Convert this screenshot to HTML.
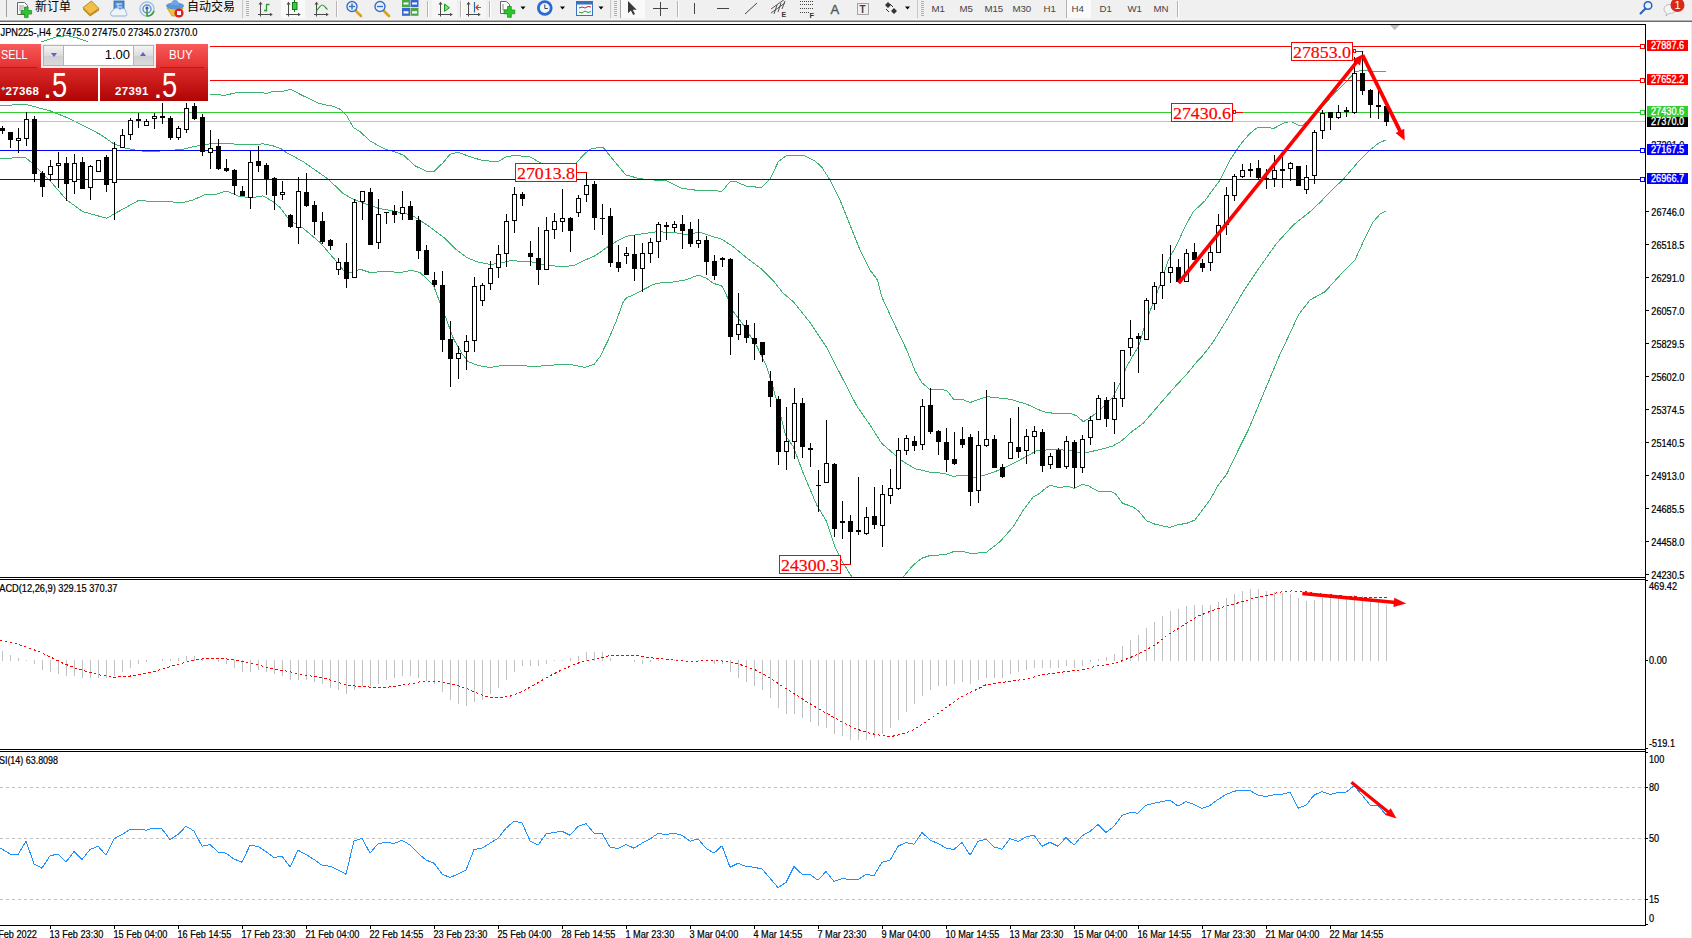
<!DOCTYPE html>
<html><head><meta charset="utf-8"><title>JPN225-,H4</title>
<style>
html,body{margin:0;padding:0;background:#fff;}
body{width:1692px;height:938px;position:relative;overflow:hidden;font-family:"Liberation Sans","Noto Sans CJK SC",sans-serif;}
#tb{position:absolute;left:0;top:0;width:1692px;height:19px;background:#f0f0f0;}
#tbl{position:absolute;left:0;top:19px;width:1692px;height:3px;background:linear-gradient(#f6f6f6 0,#f6f6f6 33%,#b2b2b2 34%,#b2b2b2 66%,#6c6c6c 67%);}
.t{position:absolute;white-space:nowrap;line-height:1;}
.tf{font-size:9.7px;color:#444;top:4.3px;margin-left:-0.6px;}
.cj{font-size:12px;color:#000;top:1px;font-family:"Liberation Sans","Noto Sans CJK SC",sans-serif;}
svg{position:absolute;left:0;top:0;}
.ax{font-size:10.2px;fill:#000;stroke:#000;stroke-width:.22px;font-family:"Liberation Sans",sans-serif;}
.axw{font-size:10.2px;fill:#fff;stroke:#fff;stroke-width:.3px;font-family:"Liberation Sans",sans-serif;}
.lbl{font-size:17.7px;fill:#f00;stroke:#f00;stroke-width:.2px;font-family:"Liberation Serif",serif;}
#panel{position:absolute;left:0;top:44px;width:208px;height:57px;}
#panel div{position:absolute;}
</style></head><body>

<svg width="1692" height="938" viewBox="0 0 1692 938">
<g shape-rendering="crispEdges">
<rect x="0" y="24" width="1646" height="1" fill="#000"/>
<rect x="1645" y="24" width="1" height="902" fill="#000"/>
<rect x="0" y="577" width="1646" height="1" fill="#000"/><rect x="0" y="579" width="1646" height="1" fill="#000"/>
<rect x="0" y="749" width="1646" height="1" fill="#000"/><rect x="0" y="751" width="1646" height="1" fill="#000"/>
<rect x="0" y="925" width="1646" height="1" fill="#000"/>
<rect x="1691" y="22" width="1" height="916" fill="#e8e8e8"/>
</g>
<defs><clipPath id="cm"><rect x="0" y="25" width="1645" height="552"/></clipPath></defs>
<g clip-path="url(#cm)">
<g fill="none" stroke="#3cb371" stroke-width="1" shape-rendering="crispEdges">
<polyline points="-5.0,62.0 20.0,50.0 42.0,41.6 56.0,37.0 67.5,35.6 77.5,38.0 87.5,41.6 120.0,58.0 160.0,78.0 195.0,90.0 210.0,94.2 225.0,95.3 238.3,92.2 258.3,92.2 266.7,93.3 273.3,91.2 283.3,91.2 290.8,89.2 300.0,94.2 316.7,102.5 323.3,104.5 333.3,106.3 340.0,109.2 346.7,115.8 353.3,127.5 360.0,131.7 370.0,140.8 380.0,146.7 388.3,150.3 391.7,150.8 403.3,155.0 415.0,165.8 426.7,171.3 434.2,171.3 443.3,162.5 450.0,154.2 458.3,152.2 470.0,156.7 483.3,160.8 498.3,161.3 506.7,156.7 515.0,155.3 530.0,157.0 540.0,162.5 548.0,166.0 560.0,168.0 570.0,166.0 576.7,162.5 583.3,155.0 590.0,149.2 600.0,147.2 603.3,147.5 613.3,160.0 625.8,175.0 640.0,178.7 653.3,180.0 666.7,180.8 681.7,188.3 696.7,190.3 713.3,190.3 721.7,191.7 730.0,181.7 736.7,182.0 746.7,186.3 761.7,187.5 770.0,179.2 778.3,161.7 786.7,155.3 803.3,155.3 815.0,160.8 822.0,167.5 830.0,180.0 840.0,200.0 850.0,225.0 860.0,250.0 870.0,270.0 877.5,280.0 881.7,296.7 893.3,321.7 906.7,350.0 915.0,370.8 921.7,382.5 930.0,389.7 938.3,389.2 946.7,390.3 954.2,400.0 961.7,399.2 970.0,402.5 986.7,396.7 1010.0,399.2 1026.7,404.2 1043.3,411.7 1053.3,413.3 1070.0,413.3 1076.7,415.8 1083.3,421.7 1091.7,416.7 1103.3,406.7 1113.3,396.7 1120.0,383.3 1126.7,366.7 1133.3,355.0 1139.2,345.0 1143.3,330.0 1151.7,306.7 1160.0,285.0 1168.3,260.0 1176.7,245.0 1185.0,226.7 1193.3,211.7 1205.0,200.8 1208.3,196.0 1220.0,180.0 1230.0,160.0 1240.0,145.0 1250.0,133.3 1258.3,127.0 1268.3,127.0 1273.3,128.7 1283.3,123.3 1290.8,121.2 1298.3,125.0 1303.3,125.0 1315.0,115.0 1325.0,104.0 1335.0,92.5 1343.3,85.0 1350.0,77.5 1355.0,71.7 1363.3,70.3 1370.0,71.3 1385.8,71.3"/>
<polyline points="-5.0,107.0 0.0,105.8 25.0,104.2 50.0,110.8 66.7,117.5 83.3,125.8 100.0,134.2 113.0,143.3 125.0,148.0 133.0,149.7 143.0,151.2 157.0,151.2 170.0,150.5 183.0,149.2 193.0,146.7 206.7,144.2 223.0,143.0 241.7,144.7 253.0,145.0 263.0,143.8 273.0,145.8 282.0,149.2 283.3,150.8 303.3,161.7 328.3,179.2 343.3,193.7 353.3,199.2 366.7,204.2 378.3,208.3 395.0,211.3 411.7,215.0 428.3,225.8 445.0,238.3 456.7,250.0 466.7,257.5 476.7,261.7 490.0,264.5 500.0,263.3 510.0,260.8 528.3,261.3 541.7,264.2 558.3,266.5 573.3,265.8 583.3,260.8 595.0,255.8 606.7,247.5 616.7,241.3 626.7,236.2 640.0,234.2 656.7,231.7 673.3,232.5 686.7,234.5 700.0,232.2 710.0,235.8 721.7,239.2 733.3,246.7 748.3,259.2 761.7,269.2 773.3,280.8 783.3,293.3 793.3,301.7 810.0,322.5 826.7,347.5 843.3,380.0 856.7,405.8 870.0,425.0 881.7,443.3 895.0,455.0 903.3,461.7 915.0,468.7 930.0,472.2 943.3,473.3 953.3,476.3 963.3,475.0 975.0,477.5 985.0,475.0 1001.7,469.2 1018.3,460.8 1036.7,450.8 1051.7,449.5 1070.0,450.3 1076.7,452.5 1086.7,452.5 1101.7,449.2 1113.3,445.8 1121.7,440.8 1131.7,431.7 1143.3,423.3 1153.3,411.7 1163.3,400.0 1175.0,386.7 1186.7,374.2 1198.3,360.0 1202.5,356.0 1213.3,341.7 1226.7,320.0 1243.3,291.7 1260.0,266.7 1276.7,243.3 1293.3,225.0 1310.0,211.7 1321.7,200.8 1325.8,196.0 1343.3,179.2 1358.3,161.7 1370.0,150.0 1378.3,143.3 1385.8,140.0"/>
<polyline points="-5.0,160.0 0.0,159.0 25.0,157.0 33.0,164.0 50.0,180.8 66.7,200.0 83.0,211.7 106.7,218.3 116.7,212.5 138.0,200.8 158.0,201.3 183.0,202.5 193.0,200.0 206.7,194.0 216.7,194.0 226.7,191.0 240.0,196.7 253.0,197.5 263.0,195.8 273.0,201.7 280.0,207.5 290.0,220.8 303.3,228.3 320.0,242.5 336.7,261.7 345.0,272.5 350.0,273.0 360.0,269.2 370.0,272.5 386.7,271.3 400.0,272.5 411.7,270.3 420.0,272.5 433.3,285.0 439.0,300.0 446.7,320.0 453.3,338.3 461.7,353.3 468.3,361.7 478.3,365.5 490.0,367.5 503.3,365.3 536.7,366.3 558.3,364.7 571.7,364.7 585.0,367.5 594.2,364.2 600.0,356.7 608.3,340.0 616.7,320.0 623.3,301.7 626.7,297.5 633.3,295.0 641.7,290.5 653.3,284.5 656.7,283.3 673.3,282.0 686.7,279.7 698.3,275.0 706.7,278.3 713.3,283.3 721.7,286.0 725.0,291.7 733.3,311.7 743.3,325.0 756.7,345.8 766.7,366.7 773.3,388.3 780.0,413.3 785.8,436.0 793.3,446.7 803.3,473.3 816.7,505.0 826.7,521.7 835.0,546.7 843.3,563.3 851.7,576.7 860.0,592.0 895.0,592.0 903.3,576.7 913.3,565.0 921.7,558.3 930.0,555.5 945.0,554.7 953.3,551.7 963.3,551.7 971.7,553.7 986.7,552.0 1000.0,541.7 1013.3,526.7 1023.3,510.0 1033.3,496.7 1038.3,494.2 1050.0,485.0 1058.3,487.5 1068.3,486.5 1074.2,488.3 1082.5,484.2 1088.3,485.8 1098.3,491.3 1111.7,491.7 1115.0,493.3 1122.5,503.3 1133.3,507.0 1138.3,510.8 1146.7,520.8 1155.0,524.2 1170.0,527.5 1176.7,525.0 1186.7,523.3 1195.0,520.0 1210.0,500.0 1218.3,485.0 1226.7,474.2 1238.3,450.0 1248.3,430.0 1279.2,356.0 1290.0,333.3 1298.3,315.0 1310.0,300.0 1325.0,291.7 1343.3,271.7 1355.0,260.0 1363.3,241.7 1373.3,221.7 1380.0,214.2 1385.8,211.3"/>
</g>
<g shape-rendering="crispEdges">
<rect x="0" y="46" width="1645" height="1" fill="#f00"/>
<rect x="0" y="80" width="1645" height="1" fill="#f00"/>
<rect x="0" y="112" width="1645" height="1" fill="#32cd32"/>
<rect x="0" y="121" width="1645" height="1" fill="#c0c0c0"/>
<rect x="0" y="150" width="1645" height="1" fill="#00f"/>
<rect x="0" y="179" width="1645" height="1" fill="#00f"/>
</g>
<g shape-rendering="crispEdges">
<rect x="2" y="126" width="1" height="8" fill="#000"/>
<rect x="0" y="128" width="5" height="3" fill="#000"/>
<rect x="10" y="132" width="1" height="16" fill="#000"/>
<rect x="8" y="132" width="5" height="8" fill="#000"/>
<rect x="18" y="128" width="1" height="25" fill="#000"/>
<rect x="16" y="138" width="5" height="3" fill="#000"/><rect x="17" y="139" width="3" height="1" fill="#fff"/>
<rect x="26" y="112" width="1" height="34" fill="#000"/>
<rect x="24" y="119" width="5" height="20" fill="#000"/><rect x="25" y="120" width="3" height="18" fill="#fff"/>
<rect x="34" y="116" width="1" height="66" fill="#000"/>
<rect x="32" y="119" width="5" height="55" fill="#000"/>
<rect x="42" y="171" width="1" height="26" fill="#000"/>
<rect x="40" y="173" width="5" height="14" fill="#000"/>
<rect x="50" y="160" width="1" height="21" fill="#000"/>
<rect x="48" y="166" width="5" height="9" fill="#000"/><rect x="49" y="167" width="3" height="7" fill="#fff"/>
<rect x="58" y="152" width="1" height="36" fill="#000"/>
<rect x="56" y="163" width="5" height="3" fill="#000"/><rect x="57" y="164" width="3" height="1" fill="#fff"/>
<rect x="66" y="157" width="1" height="44" fill="#000"/>
<rect x="64" y="163" width="5" height="21" fill="#000"/>
<rect x="74" y="154" width="1" height="40" fill="#000"/>
<rect x="72" y="163" width="5" height="19" fill="#000"/><rect x="73" y="164" width="3" height="17" fill="#fff"/>
<rect x="82" y="157" width="1" height="32" fill="#000"/>
<rect x="80" y="162" width="5" height="27" fill="#000"/>
<rect x="90" y="165" width="1" height="35" fill="#000"/>
<rect x="88" y="166" width="5" height="22" fill="#000"/><rect x="89" y="167" width="3" height="20" fill="#fff"/>
<rect x="98" y="160" width="1" height="12" fill="#000"/>
<rect x="96" y="160" width="5" height="12" fill="#000"/><rect x="97" y="161" width="3" height="10" fill="#fff"/>
<rect x="106" y="155" width="1" height="37" fill="#000"/>
<rect x="104" y="157" width="5" height="28" fill="#000"/>
<rect x="114" y="142" width="1" height="78" fill="#000"/>
<rect x="112" y="148" width="5" height="35" fill="#000"/><rect x="113" y="149" width="3" height="33" fill="#fff"/>
<rect x="122" y="129" width="1" height="19" fill="#000"/>
<rect x="120" y="135" width="5" height="13" fill="#000"/><rect x="121" y="136" width="3" height="11" fill="#fff"/>
<rect x="130" y="118" width="1" height="22" fill="#000"/>
<rect x="128" y="120" width="5" height="15" fill="#000"/><rect x="129" y="121" width="3" height="13" fill="#fff"/>
<rect x="138" y="113" width="1" height="15" fill="#000"/>
<rect x="136" y="119" width="5" height="2" fill="#000"/>
<rect x="146" y="119" width="1" height="7" fill="#000"/>
<rect x="144" y="121" width="5" height="5" fill="#000"/><rect x="145" y="122" width="3" height="3" fill="#fff"/>
<rect x="154" y="113" width="1" height="16" fill="#000"/>
<rect x="152" y="116" width="5" height="3" fill="#000"/><rect x="153" y="117" width="3" height="1" fill="#fff"/>
<rect x="162" y="103" width="1" height="21" fill="#000"/>
<rect x="160" y="116" width="5" height="2" fill="#000"/>
<rect x="170" y="116" width="1" height="24" fill="#000"/>
<rect x="168" y="118" width="5" height="20" fill="#000"/>
<rect x="178" y="126" width="1" height="14" fill="#000"/>
<rect x="176" y="128" width="5" height="10" fill="#000"/><rect x="177" y="129" width="3" height="8" fill="#fff"/>
<rect x="186" y="103" width="1" height="30" fill="#000"/>
<rect x="184" y="108" width="5" height="22" fill="#000"/><rect x="185" y="109" width="3" height="20" fill="#fff"/>
<rect x="194" y="103" width="1" height="17" fill="#000"/>
<rect x="192" y="106" width="5" height="13" fill="#000"/>
<rect x="202" y="114" width="1" height="42" fill="#000"/>
<rect x="200" y="117" width="5" height="35" fill="#000"/>
<rect x="210" y="130" width="1" height="39" fill="#000"/>
<rect x="208" y="148" width="5" height="5" fill="#000"/><rect x="209" y="149" width="3" height="3" fill="#fff"/>
<rect x="218" y="139" width="1" height="31" fill="#000"/>
<rect x="216" y="146" width="5" height="23" fill="#000"/>
<rect x="226" y="159" width="1" height="13" fill="#000"/>
<rect x="224" y="168" width="5" height="3" fill="#000"/>
<rect x="234" y="169" width="1" height="26" fill="#000"/>
<rect x="232" y="170" width="5" height="16" fill="#000"/>
<rect x="242" y="186" width="1" height="10" fill="#000"/>
<rect x="240" y="191" width="5" height="5" fill="#000"/>
<rect x="250" y="151" width="1" height="58" fill="#000"/>
<rect x="248" y="162" width="5" height="36" fill="#000"/><rect x="249" y="163" width="3" height="34" fill="#fff"/>
<rect x="258" y="146" width="1" height="26" fill="#000"/>
<rect x="256" y="161" width="5" height="5" fill="#000"/>
<rect x="266" y="163" width="1" height="32" fill="#000"/>
<rect x="264" y="165" width="5" height="14" fill="#000"/>
<rect x="274" y="177" width="1" height="33" fill="#000"/>
<rect x="272" y="178" width="5" height="18" fill="#000"/>
<rect x="282" y="181" width="1" height="19" fill="#000"/>
<rect x="280" y="192" width="5" height="3" fill="#000"/><rect x="281" y="193" width="3" height="1" fill="#fff"/>
<rect x="290" y="214" width="1" height="14" fill="#000"/>
<rect x="288" y="215" width="5" height="12" fill="#000"/>
<rect x="298" y="177" width="1" height="67" fill="#000"/>
<rect x="296" y="191" width="5" height="37" fill="#000"/><rect x="297" y="192" width="3" height="35" fill="#fff"/>
<rect x="306" y="173" width="1" height="34" fill="#000"/>
<rect x="304" y="192" width="5" height="14" fill="#000"/>
<rect x="314" y="201" width="1" height="34" fill="#000"/>
<rect x="312" y="205" width="5" height="17" fill="#000"/>
<rect x="322" y="212" width="1" height="32" fill="#000"/>
<rect x="320" y="221" width="5" height="21" fill="#000"/>
<rect x="330" y="239" width="1" height="11" fill="#000"/>
<rect x="328" y="240" width="5" height="6" fill="#000"/>
<rect x="338" y="258" width="1" height="17" fill="#000"/>
<rect x="336" y="262" width="5" height="8" fill="#000"/><rect x="337" y="263" width="3" height="6" fill="#fff"/>
<rect x="346" y="243" width="1" height="45" fill="#000"/>
<rect x="344" y="262" width="5" height="17" fill="#000"/>
<rect x="354" y="199" width="1" height="79" fill="#000"/>
<rect x="352" y="202" width="5" height="76" fill="#000"/><rect x="353" y="203" width="3" height="74" fill="#fff"/>
<rect x="362" y="191" width="1" height="29" fill="#000"/>
<rect x="360" y="191" width="5" height="11" fill="#000"/><rect x="361" y="192" width="3" height="9" fill="#fff"/>
<rect x="370" y="188" width="1" height="57" fill="#000"/>
<rect x="368" y="192" width="5" height="53" fill="#000"/>
<rect x="378" y="199" width="1" height="50" fill="#000"/>
<rect x="376" y="214" width="5" height="29" fill="#000"/><rect x="377" y="215" width="3" height="27" fill="#fff"/>
<rect x="386" y="212" width="1" height="12" fill="#000"/>
<rect x="384" y="212" width="5" height="1" fill="#000"/>
<rect x="394" y="205" width="1" height="18" fill="#000"/>
<rect x="392" y="211" width="5" height="4" fill="#000"/>
<rect x="402" y="191" width="1" height="29" fill="#000"/>
<rect x="400" y="207" width="5" height="7" fill="#000"/><rect x="401" y="208" width="3" height="5" fill="#fff"/>
<rect x="410" y="201" width="1" height="19" fill="#000"/>
<rect x="408" y="206" width="5" height="14" fill="#000"/>
<rect x="418" y="216" width="1" height="43" fill="#000"/>
<rect x="416" y="220" width="5" height="31" fill="#000"/>
<rect x="426" y="245" width="1" height="30" fill="#000"/>
<rect x="424" y="250" width="5" height="25" fill="#000"/>
<rect x="434" y="272" width="1" height="15" fill="#000"/>
<rect x="432" y="280" width="5" height="5" fill="#000"/>
<rect x="442" y="271" width="1" height="81" fill="#000"/>
<rect x="440" y="285" width="5" height="55" fill="#000"/>
<rect x="450" y="321" width="1" height="66" fill="#000"/>
<rect x="448" y="339" width="5" height="20" fill="#000"/>
<rect x="458" y="346" width="1" height="33" fill="#000"/>
<rect x="456" y="353" width="5" height="6" fill="#000"/><rect x="457" y="354" width="3" height="4" fill="#fff"/>
<rect x="466" y="335" width="1" height="35" fill="#000"/>
<rect x="464" y="341" width="5" height="11" fill="#000"/><rect x="465" y="342" width="3" height="9" fill="#fff"/>
<rect x="474" y="277" width="1" height="75" fill="#000"/>
<rect x="472" y="286" width="5" height="55" fill="#000"/><rect x="473" y="287" width="3" height="53" fill="#fff"/>
<rect x="482" y="283" width="1" height="23" fill="#000"/>
<rect x="480" y="285" width="5" height="16" fill="#000"/><rect x="481" y="286" width="3" height="14" fill="#fff"/>
<rect x="490" y="261" width="1" height="29" fill="#000"/>
<rect x="488" y="268" width="5" height="16" fill="#000"/><rect x="489" y="269" width="3" height="14" fill="#fff"/>
<rect x="498" y="245" width="1" height="33" fill="#000"/>
<rect x="496" y="254" width="5" height="14" fill="#000"/><rect x="497" y="255" width="3" height="12" fill="#fff"/>
<rect x="506" y="214" width="1" height="53" fill="#000"/>
<rect x="504" y="221" width="5" height="33" fill="#000"/><rect x="505" y="222" width="3" height="31" fill="#fff"/>
<rect x="514" y="187" width="1" height="46" fill="#000"/>
<rect x="512" y="194" width="5" height="27" fill="#000"/><rect x="513" y="195" width="3" height="25" fill="#fff"/>
<rect x="522" y="192" width="1" height="14" fill="#000"/>
<rect x="520" y="194" width="5" height="5" fill="#000"/>
<rect x="530" y="241" width="1" height="25" fill="#000"/>
<rect x="528" y="253" width="5" height="4" fill="#000"/>
<rect x="538" y="227" width="1" height="58" fill="#000"/>
<rect x="536" y="258" width="5" height="12" fill="#000"/>
<rect x="546" y="217" width="1" height="53" fill="#000"/>
<rect x="544" y="230" width="5" height="40" fill="#000"/><rect x="545" y="231" width="3" height="38" fill="#fff"/>
<rect x="554" y="213" width="1" height="26" fill="#000"/>
<rect x="552" y="221" width="5" height="9" fill="#000"/><rect x="553" y="222" width="3" height="7" fill="#fff"/>
<rect x="562" y="189" width="1" height="43" fill="#000"/>
<rect x="560" y="218" width="5" height="4" fill="#000"/><rect x="561" y="219" width="3" height="2" fill="#fff"/>
<rect x="570" y="217" width="1" height="35" fill="#000"/>
<rect x="568" y="218" width="5" height="13" fill="#000"/>
<rect x="578" y="195" width="1" height="22" fill="#000"/>
<rect x="576" y="198" width="5" height="15" fill="#000"/><rect x="577" y="199" width="3" height="13" fill="#fff"/>
<rect x="586" y="172" width="1" height="30" fill="#000"/>
<rect x="584" y="185" width="5" height="10" fill="#000"/><rect x="585" y="186" width="3" height="8" fill="#fff"/>
<rect x="594" y="181" width="1" height="49" fill="#000"/>
<rect x="592" y="184" width="5" height="34" fill="#000"/>
<rect x="602" y="204" width="1" height="31" fill="#000"/>
<rect x="600" y="218" width="5" height="1" fill="#000"/>
<rect x="610" y="208" width="1" height="59" fill="#000"/>
<rect x="608" y="216" width="5" height="47" fill="#000"/>
<rect x="618" y="245" width="1" height="27" fill="#000"/>
<rect x="616" y="262" width="5" height="6" fill="#000"/>
<rect x="626" y="247" width="1" height="17" fill="#000"/>
<rect x="624" y="253" width="5" height="3" fill="#000"/><rect x="625" y="254" width="3" height="1" fill="#fff"/>
<rect x="634" y="235" width="1" height="46" fill="#000"/>
<rect x="632" y="254" width="5" height="15" fill="#000"/>
<rect x="642" y="243" width="1" height="49" fill="#000"/>
<rect x="640" y="253" width="5" height="16" fill="#000"/><rect x="641" y="254" width="3" height="14" fill="#fff"/>
<rect x="650" y="238" width="1" height="25" fill="#000"/>
<rect x="648" y="242" width="5" height="12" fill="#000"/><rect x="649" y="243" width="3" height="10" fill="#fff"/>
<rect x="658" y="222" width="1" height="36" fill="#000"/>
<rect x="656" y="224" width="5" height="18" fill="#000"/><rect x="657" y="225" width="3" height="16" fill="#fff"/>
<rect x="666" y="222" width="1" height="18" fill="#000"/>
<rect x="664" y="225" width="5" height="2" fill="#000"/>
<rect x="674" y="221" width="1" height="11" fill="#000"/>
<rect x="672" y="224" width="5" height="4" fill="#000"/><rect x="673" y="225" width="3" height="2" fill="#fff"/>
<rect x="682" y="215" width="1" height="34" fill="#000"/>
<rect x="680" y="224" width="5" height="7" fill="#000"/>
<rect x="690" y="222" width="1" height="25" fill="#000"/>
<rect x="688" y="229" width="5" height="15" fill="#000"/>
<rect x="698" y="219" width="1" height="29" fill="#000"/>
<rect x="696" y="240" width="5" height="4" fill="#000"/><rect x="697" y="241" width="3" height="2" fill="#fff"/>
<rect x="706" y="236" width="1" height="39" fill="#000"/>
<rect x="704" y="240" width="5" height="22" fill="#000"/>
<rect x="714" y="255" width="1" height="25" fill="#000"/>
<rect x="712" y="261" width="5" height="15" fill="#000"/>
<rect x="722" y="257" width="1" height="10" fill="#000"/>
<rect x="720" y="258" width="5" height="2" fill="#000"/>
<rect x="730" y="258" width="1" height="97" fill="#000"/>
<rect x="728" y="259" width="5" height="78" fill="#000"/>
<rect x="738" y="293" width="1" height="47" fill="#000"/>
<rect x="736" y="324" width="5" height="11" fill="#000"/><rect x="737" y="325" width="3" height="9" fill="#fff"/>
<rect x="746" y="320" width="1" height="23" fill="#000"/>
<rect x="744" y="325" width="5" height="13" fill="#000"/>
<rect x="754" y="323" width="1" height="37" fill="#000"/>
<rect x="752" y="338" width="5" height="6" fill="#000"/>
<rect x="762" y="342" width="1" height="20" fill="#000"/>
<rect x="760" y="342" width="5" height="13" fill="#000"/>
<rect x="770" y="371" width="1" height="36" fill="#000"/>
<rect x="768" y="381" width="5" height="16" fill="#000"/>
<rect x="778" y="396" width="1" height="69" fill="#000"/>
<rect x="776" y="399" width="5" height="53" fill="#000"/>
<rect x="786" y="407" width="1" height="63" fill="#000"/>
<rect x="784" y="441" width="5" height="11" fill="#000"/><rect x="785" y="442" width="3" height="9" fill="#fff"/>
<rect x="794" y="388" width="1" height="71" fill="#000"/>
<rect x="792" y="403" width="5" height="39" fill="#000"/><rect x="793" y="404" width="3" height="37" fill="#fff"/>
<rect x="802" y="398" width="1" height="60" fill="#000"/>
<rect x="800" y="403" width="5" height="44" fill="#000"/>
<rect x="810" y="443" width="1" height="24" fill="#000"/>
<rect x="808" y="448" width="5" height="2" fill="#000"/>
<rect x="818" y="470" width="1" height="42" fill="#000"/>
<rect x="816" y="485" width="5" height="1" fill="#000"/>
<rect x="826" y="420" width="1" height="63" fill="#000"/>
<rect x="824" y="463" width="5" height="20" fill="#000"/><rect x="825" y="464" width="3" height="18" fill="#fff"/>
<rect x="834" y="463" width="1" height="74" fill="#000"/>
<rect x="832" y="464" width="5" height="65" fill="#000"/>
<rect x="842" y="501" width="1" height="38" fill="#000"/>
<rect x="840" y="521" width="5" height="2" fill="#000"/>
<rect x="850" y="515" width="1" height="49" fill="#000"/>
<rect x="848" y="521" width="5" height="11" fill="#000"/>
<rect x="858" y="477" width="1" height="58" fill="#000"/>
<rect x="856" y="530" width="5" height="2" fill="#000"/>
<rect x="866" y="507" width="1" height="28" fill="#000"/>
<rect x="864" y="517" width="5" height="17" fill="#000"/><rect x="865" y="518" width="3" height="15" fill="#fff"/>
<rect x="874" y="487" width="1" height="42" fill="#000"/>
<rect x="872" y="516" width="5" height="9" fill="#000"/>
<rect x="882" y="485" width="1" height="62" fill="#000"/>
<rect x="880" y="494" width="5" height="32" fill="#000"/><rect x="881" y="495" width="3" height="30" fill="#fff"/>
<rect x="890" y="469" width="1" height="35" fill="#000"/>
<rect x="888" y="488" width="5" height="8" fill="#000"/><rect x="889" y="489" width="3" height="6" fill="#fff"/>
<rect x="898" y="438" width="1" height="52" fill="#000"/>
<rect x="896" y="450" width="5" height="39" fill="#000"/><rect x="897" y="451" width="3" height="37" fill="#fff"/>
<rect x="906" y="435" width="1" height="20" fill="#000"/>
<rect x="904" y="438" width="5" height="13" fill="#000"/><rect x="905" y="439" width="3" height="11" fill="#fff"/>
<rect x="914" y="436" width="1" height="15" fill="#000"/>
<rect x="912" y="441" width="5" height="5" fill="#000"/>
<rect x="922" y="399" width="1" height="51" fill="#000"/>
<rect x="920" y="406" width="5" height="39" fill="#000"/><rect x="921" y="407" width="3" height="37" fill="#fff"/>
<rect x="930" y="388" width="1" height="46" fill="#000"/>
<rect x="928" y="405" width="5" height="27" fill="#000"/>
<rect x="938" y="430" width="1" height="25" fill="#000"/>
<rect x="936" y="431" width="5" height="11" fill="#000"/>
<rect x="946" y="428" width="1" height="44" fill="#000"/>
<rect x="944" y="442" width="5" height="18" fill="#000"/>
<rect x="954" y="432" width="1" height="33" fill="#000"/>
<rect x="952" y="459" width="5" height="5" fill="#000"/>
<rect x="962" y="427" width="1" height="21" fill="#000"/>
<rect x="960" y="439" width="5" height="6" fill="#000"/>
<rect x="970" y="434" width="1" height="72" fill="#000"/>
<rect x="968" y="437" width="5" height="55" fill="#000"/>
<rect x="978" y="431" width="1" height="72" fill="#000"/>
<rect x="976" y="445" width="5" height="46" fill="#000"/><rect x="977" y="446" width="3" height="44" fill="#fff"/>
<rect x="986" y="390" width="1" height="57" fill="#000"/>
<rect x="984" y="439" width="5" height="7" fill="#000"/><rect x="985" y="440" width="3" height="5" fill="#fff"/>
<rect x="994" y="435" width="1" height="33" fill="#000"/>
<rect x="992" y="439" width="5" height="29" fill="#000"/>
<rect x="1002" y="464" width="1" height="14" fill="#000"/>
<rect x="1000" y="467" width="5" height="10" fill="#000"/>
<rect x="1010" y="418" width="1" height="41" fill="#000"/>
<rect x="1008" y="442" width="5" height="17" fill="#000"/><rect x="1009" y="443" width="3" height="15" fill="#fff"/>
<rect x="1018" y="407" width="1" height="51" fill="#000"/>
<rect x="1016" y="447" width="5" height="5" fill="#000"/>
<rect x="1026" y="429" width="1" height="35" fill="#000"/>
<rect x="1024" y="436" width="5" height="15" fill="#000"/><rect x="1025" y="437" width="3" height="13" fill="#fff"/>
<rect x="1034" y="426" width="1" height="28" fill="#000"/>
<rect x="1032" y="431" width="5" height="6" fill="#000"/><rect x="1033" y="432" width="3" height="4" fill="#fff"/>
<rect x="1042" y="429" width="1" height="43" fill="#000"/>
<rect x="1040" y="432" width="5" height="34" fill="#000"/>
<rect x="1050" y="453" width="1" height="16" fill="#000"/>
<rect x="1048" y="456" width="5" height="9" fill="#000"/><rect x="1049" y="457" width="3" height="7" fill="#fff"/>
<rect x="1058" y="448" width="1" height="20" fill="#000"/>
<rect x="1056" y="450" width="5" height="18" fill="#000"/>
<rect x="1066" y="436" width="1" height="33" fill="#000"/>
<rect x="1064" y="441" width="5" height="26" fill="#000"/><rect x="1065" y="442" width="3" height="24" fill="#fff"/>
<rect x="1074" y="440" width="1" height="48" fill="#000"/>
<rect x="1072" y="442" width="5" height="26" fill="#000"/>
<rect x="1082" y="435" width="1" height="38" fill="#000"/>
<rect x="1080" y="439" width="5" height="29" fill="#000"/><rect x="1081" y="440" width="3" height="27" fill="#fff"/>
<rect x="1090" y="416" width="1" height="29" fill="#000"/>
<rect x="1088" y="420" width="5" height="18" fill="#000"/><rect x="1089" y="421" width="3" height="16" fill="#fff"/>
<rect x="1098" y="395" width="1" height="25" fill="#000"/>
<rect x="1096" y="398" width="5" height="22" fill="#000"/><rect x="1097" y="399" width="3" height="20" fill="#fff"/>
<rect x="1106" y="397" width="1" height="30" fill="#000"/>
<rect x="1104" y="400" width="5" height="19" fill="#000"/>
<rect x="1114" y="382" width="1" height="52" fill="#000"/>
<rect x="1112" y="398" width="5" height="22" fill="#000"/><rect x="1113" y="399" width="3" height="20" fill="#fff"/>
<rect x="1122" y="350" width="1" height="57" fill="#000"/>
<rect x="1120" y="350" width="5" height="49" fill="#000"/><rect x="1121" y="351" width="3" height="47" fill="#fff"/>
<rect x="1130" y="320" width="1" height="36" fill="#000"/>
<rect x="1128" y="338" width="5" height="10" fill="#000"/><rect x="1129" y="339" width="3" height="8" fill="#fff"/>
<rect x="1138" y="333" width="1" height="40" fill="#000"/>
<rect x="1136" y="336" width="5" height="3" fill="#000"/>
<rect x="1146" y="298" width="1" height="42" fill="#000"/>
<rect x="1144" y="300" width="5" height="40" fill="#000"/><rect x="1145" y="301" width="3" height="38" fill="#fff"/>
<rect x="1154" y="282" width="1" height="28" fill="#000"/>
<rect x="1152" y="286" width="5" height="18" fill="#000"/><rect x="1153" y="287" width="3" height="16" fill="#fff"/>
<rect x="1162" y="254" width="1" height="45" fill="#000"/>
<rect x="1160" y="272" width="5" height="14" fill="#000"/><rect x="1161" y="273" width="3" height="12" fill="#fff"/>
<rect x="1170" y="245" width="1" height="38" fill="#000"/>
<rect x="1168" y="267" width="5" height="6" fill="#000"/><rect x="1169" y="268" width="3" height="4" fill="#fff"/>
<rect x="1178" y="259" width="1" height="23" fill="#000"/>
<rect x="1176" y="267" width="5" height="15" fill="#000"/>
<rect x="1186" y="249" width="1" height="33" fill="#000"/>
<rect x="1184" y="253" width="5" height="29" fill="#000"/><rect x="1185" y="254" width="3" height="27" fill="#fff"/>
<rect x="1194" y="243" width="1" height="17" fill="#000"/>
<rect x="1192" y="252" width="5" height="8" fill="#000"/>
<rect x="1202" y="259" width="1" height="13" fill="#000"/>
<rect x="1200" y="263" width="5" height="5" fill="#000"/>
<rect x="1210" y="245" width="1" height="26" fill="#000"/>
<rect x="1208" y="252" width="5" height="11" fill="#000"/><rect x="1209" y="253" width="3" height="9" fill="#fff"/>
<rect x="1218" y="214" width="1" height="39" fill="#000"/>
<rect x="1216" y="225" width="5" height="28" fill="#000"/><rect x="1217" y="226" width="3" height="26" fill="#fff"/>
<rect x="1226" y="187" width="1" height="48" fill="#000"/>
<rect x="1224" y="195" width="5" height="30" fill="#000"/><rect x="1225" y="196" width="3" height="28" fill="#fff"/>
<rect x="1234" y="174" width="1" height="27" fill="#000"/>
<rect x="1232" y="176" width="5" height="20" fill="#000"/><rect x="1233" y="177" width="3" height="18" fill="#fff"/>
<rect x="1242" y="164" width="1" height="14" fill="#000"/>
<rect x="1240" y="170" width="5" height="7" fill="#000"/><rect x="1241" y="171" width="3" height="5" fill="#fff"/>
<rect x="1250" y="163" width="1" height="14" fill="#000"/>
<rect x="1248" y="169" width="5" height="2" fill="#000"/>
<rect x="1258" y="160" width="1" height="20" fill="#000"/>
<rect x="1256" y="168" width="5" height="10" fill="#000"/>
<rect x="1266" y="169" width="1" height="20" fill="#000"/>
<rect x="1264" y="178" width="5" height="1" fill="#000"/>
<rect x="1274" y="155" width="1" height="32" fill="#000"/>
<rect x="1272" y="170" width="5" height="9" fill="#000"/><rect x="1273" y="171" width="3" height="7" fill="#fff"/>
<rect x="1282" y="157" width="1" height="31" fill="#000"/>
<rect x="1280" y="169" width="5" height="2" fill="#000"/>
<rect x="1290" y="162" width="1" height="19" fill="#000"/>
<rect x="1288" y="163" width="5" height="6" fill="#000"/><rect x="1289" y="164" width="3" height="4" fill="#fff"/>
<rect x="1298" y="166" width="1" height="20" fill="#000"/>
<rect x="1296" y="166" width="5" height="20" fill="#000"/>
<rect x="1306" y="165" width="1" height="29" fill="#000"/>
<rect x="1304" y="177" width="5" height="13" fill="#000"/><rect x="1305" y="178" width="3" height="11" fill="#fff"/>
<rect x="1314" y="130" width="1" height="54" fill="#000"/>
<rect x="1312" y="132" width="5" height="44" fill="#000"/><rect x="1313" y="133" width="3" height="42" fill="#fff"/>
<rect x="1322" y="110" width="1" height="29" fill="#000"/>
<rect x="1320" y="113" width="5" height="18" fill="#000"/><rect x="1321" y="114" width="3" height="16" fill="#fff"/>
<rect x="1330" y="112" width="1" height="18" fill="#000"/>
<rect x="1328" y="112" width="5" height="6" fill="#000"/>
<rect x="1338" y="105" width="1" height="14" fill="#000"/>
<rect x="1336" y="112" width="5" height="6" fill="#000"/><rect x="1337" y="113" width="3" height="4" fill="#fff"/>
<rect x="1346" y="107" width="1" height="10" fill="#000"/>
<rect x="1344" y="110" width="5" height="2" fill="#000"/>
<rect x="1354" y="57" width="1" height="57" fill="#000"/>
<rect x="1352" y="73" width="5" height="40" fill="#000"/><rect x="1353" y="74" width="3" height="38" fill="#fff"/>
<rect x="1362" y="51" width="1" height="44" fill="#000"/>
<rect x="1360" y="73" width="5" height="18" fill="#000"/>
<rect x="1370" y="89" width="1" height="29" fill="#000"/>
<rect x="1368" y="90" width="5" height="15" fill="#000"/>
<rect x="1378" y="91" width="1" height="28" fill="#000"/>
<rect x="1376" y="105" width="5" height="2" fill="#000"/>
<rect x="1386" y="106" width="1" height="20" fill="#000"/>
<rect x="1384" y="106" width="5" height="16" fill="#000"/>
</g>
</g>
<line x1="1178.7" y1="283.0" x2="1357.6" y2="60.9" stroke="#f00" stroke-width="3.6"/><polygon points="1362.9,54.3 1359.9,65.4 1352.7,59.6" fill="#f00"/>
<line x1="1362.5" y1="55.0" x2="1400.8" y2="132.7" stroke="#f00" stroke-width="3.8"/><polygon points="1404.7,140.6 1395.6,133.0 1404.2,128.8" fill="#f00"/>
<rect x="515.5" y="163.5" width="61" height="18" fill="#fff" stroke="#f00" stroke-width="1" shape-rendering="crispEdges"/><text class="lbl" x="517" y="179" textLength="58" lengthAdjust="spacingAndGlyphs">27013.8</text>
<path d="M577 172.5H587" fill="none" stroke="#f00" shape-rendering="crispEdges"/>
<rect x="779.5" y="555.5" width="61" height="18" fill="#fff" stroke="#f00" stroke-width="1" shape-rendering="crispEdges"/><text class="lbl" x="781" y="571" textLength="58" lengthAdjust="spacingAndGlyphs">24300.3</text>
<path d="M841 564.5H851" fill="none" stroke="#f00" shape-rendering="crispEdges"/>
<rect x="1171.5" y="103.5" width="61" height="18" fill="#fff" stroke="#f00" stroke-width="1" shape-rendering="crispEdges"/><text class="lbl" x="1173" y="119" textLength="58" lengthAdjust="spacingAndGlyphs">27430.6</text>
<rect x="1233.5" y="110.5" width="2" height="3" fill="#fff" stroke="#f00" shape-rendering="crispEdges"/><rect x="1236" y="112" width="7" height="1" fill="#f00" shape-rendering="crispEdges"/>
<rect x="1291.5" y="42.5" width="61" height="18" fill="#fff" stroke="#f00" stroke-width="1" shape-rendering="crispEdges"/><text class="lbl" x="1293" y="58" textLength="58" lengthAdjust="spacingAndGlyphs">27853.0</text>
<rect x="1353.5" y="49.5" width="2" height="3" fill="#fff" stroke="#f00" shape-rendering="crispEdges"/><path d="M1356 51.5H1362" fill="none" stroke="#f00" shape-rendering="crispEdges"/>
<polygon points="1389.8,25 1399.6,25 1394.7,30.2" fill="#c0c0c0"/>
<g shape-rendering="crispEdges" fill="#c0c0c0">
<rect x="2" y="651" width="1" height="10"/>
<rect x="10" y="655" width="1" height="6"/>
<rect x="18" y="658" width="1" height="3"/>
<rect x="26" y="660" width="1" height="1"/>
<rect x="34" y="660" width="1" height="4"/>
<rect x="42" y="660" width="1" height="10"/>
<rect x="50" y="660" width="1" height="12"/>
<rect x="58" y="660" width="1" height="14"/>
<rect x="66" y="660" width="1" height="16"/>
<rect x="74" y="660" width="1" height="16"/>
<rect x="82" y="660" width="1" height="18"/>
<rect x="90" y="660" width="1" height="18"/>
<rect x="98" y="660" width="1" height="18"/>
<rect x="106" y="660" width="1" height="18"/>
<rect x="114" y="660" width="1" height="16"/>
<rect x="122" y="660" width="1" height="12"/>
<rect x="130" y="660" width="1" height="8"/>
<rect x="138" y="660" width="1" height="4"/>
<rect x="146" y="660" width="1" height="2"/>
<rect x="162" y="659" width="1" height="2"/>
<rect x="170" y="659" width="1" height="2"/>
<rect x="178" y="658" width="1" height="3"/>
<rect x="186" y="656" width="1" height="5"/>
<rect x="194" y="656" width="1" height="5"/>
<rect x="202" y="659" width="1" height="2"/>
<rect x="218" y="660" width="1" height="2"/>
<rect x="226" y="660" width="1" height="4"/>
<rect x="234" y="660" width="1" height="8"/>
<rect x="242" y="660" width="1" height="12"/>
<rect x="250" y="660" width="1" height="12"/>
<rect x="258" y="660" width="1" height="10"/>
<rect x="266" y="660" width="1" height="12"/>
<rect x="274" y="660" width="1" height="14"/>
<rect x="282" y="660" width="1" height="16"/>
<rect x="290" y="660" width="1" height="20"/>
<rect x="298" y="660" width="1" height="20"/>
<rect x="306" y="660" width="1" height="20"/>
<rect x="314" y="660" width="1" height="22"/>
<rect x="322" y="660" width="1" height="24"/>
<rect x="330" y="660" width="1" height="28"/>
<rect x="338" y="660" width="1" height="30"/>
<rect x="346" y="660" width="1" height="34"/>
<rect x="354" y="660" width="1" height="30"/>
<rect x="362" y="660" width="1" height="26"/>
<rect x="370" y="660" width="1" height="26"/>
<rect x="378" y="660" width="1" height="24"/>
<rect x="386" y="660" width="1" height="20"/>
<rect x="394" y="660" width="1" height="18"/>
<rect x="402" y="660" width="1" height="16"/>
<rect x="410" y="660" width="1" height="16"/>
<rect x="418" y="660" width="1" height="18"/>
<rect x="426" y="660" width="1" height="21"/>
<rect x="434" y="660" width="1" height="24"/>
<rect x="442" y="660" width="1" height="32"/>
<rect x="450" y="660" width="1" height="40"/>
<rect x="458" y="660" width="1" height="44"/>
<rect x="466" y="660" width="1" height="46"/>
<rect x="474" y="660" width="1" height="42"/>
<rect x="482" y="660" width="1" height="40"/>
<rect x="490" y="660" width="1" height="34"/>
<rect x="498" y="660" width="1" height="28"/>
<rect x="506" y="660" width="1" height="20"/>
<rect x="514" y="660" width="1" height="12"/>
<rect x="522" y="660" width="1" height="6"/>
<rect x="530" y="660" width="1" height="6"/>
<rect x="538" y="660" width="1" height="6"/>
<rect x="546" y="660" width="1" height="4"/>
<rect x="554" y="660" width="1" height="1"/>
<rect x="562" y="660" width="1" height="1"/>
<rect x="570" y="658" width="1" height="3"/>
<rect x="578" y="656" width="1" height="5"/>
<rect x="586" y="652" width="1" height="9"/>
<rect x="594" y="652" width="1" height="9"/>
<rect x="602" y="652" width="1" height="9"/>
<rect x="610" y="658" width="1" height="3"/>
<rect x="634" y="660" width="1" height="2"/>
<rect x="642" y="660" width="1" height="4"/>
<rect x="650" y="660" width="1" height="2"/>
<rect x="658" y="660" width="1" height="1"/>
<rect x="674" y="660" width="1" height="1"/>
<rect x="682" y="660" width="1" height="1"/>
<rect x="698" y="660" width="1" height="1"/>
<rect x="714" y="660" width="1" height="4"/>
<rect x="722" y="660" width="1" height="4"/>
<rect x="730" y="660" width="1" height="12"/>
<rect x="738" y="660" width="1" height="18"/>
<rect x="746" y="660" width="1" height="22"/>
<rect x="754" y="660" width="1" height="26"/>
<rect x="762" y="660" width="1" height="30"/>
<rect x="770" y="660" width="1" height="38"/>
<rect x="778" y="660" width="1" height="48"/>
<rect x="786" y="660" width="1" height="54"/>
<rect x="794" y="660" width="1" height="54"/>
<rect x="802" y="660" width="1" height="58"/>
<rect x="810" y="660" width="1" height="62"/>
<rect x="818" y="660" width="1" height="66"/>
<rect x="826" y="660" width="1" height="68"/>
<rect x="834" y="660" width="1" height="74"/>
<rect x="842" y="660" width="1" height="76"/>
<rect x="850" y="660" width="1" height="80"/>
<rect x="858" y="660" width="1" height="80"/>
<rect x="866" y="660" width="1" height="80"/>
<rect x="874" y="660" width="1" height="78"/>
<rect x="882" y="660" width="1" height="74"/>
<rect x="890" y="660" width="1" height="68"/>
<rect x="898" y="660" width="1" height="60"/>
<rect x="906" y="660" width="1" height="52"/>
<rect x="914" y="660" width="1" height="44"/>
<rect x="922" y="660" width="1" height="36"/>
<rect x="930" y="660" width="1" height="30"/>
<rect x="938" y="660" width="1" height="26"/>
<rect x="946" y="660" width="1" height="26"/>
<rect x="954" y="660" width="1" height="24"/>
<rect x="962" y="660" width="1" height="22"/>
<rect x="970" y="660" width="1" height="24"/>
<rect x="978" y="660" width="1" height="20"/>
<rect x="986" y="660" width="1" height="18"/>
<rect x="994" y="660" width="1" height="18"/>
<rect x="1002" y="660" width="1" height="18"/>
<rect x="1010" y="660" width="1" height="14"/>
<rect x="1018" y="660" width="1" height="12"/>
<rect x="1026" y="660" width="1" height="10"/>
<rect x="1034" y="660" width="1" height="8"/>
<rect x="1042" y="660" width="1" height="8"/>
<rect x="1050" y="660" width="1" height="8"/>
<rect x="1058" y="660" width="1" height="8"/>
<rect x="1066" y="660" width="1" height="6"/>
<rect x="1074" y="660" width="1" height="8"/>
<rect x="1082" y="660" width="1" height="6"/>
<rect x="1090" y="660" width="1" height="2"/>
<rect x="1098" y="659" width="1" height="2"/>
<rect x="1106" y="657" width="1" height="4"/>
<rect x="1114" y="654" width="1" height="7"/>
<rect x="1122" y="646" width="1" height="15"/>
<rect x="1130" y="640" width="1" height="21"/>
<rect x="1138" y="635" width="1" height="26"/>
<rect x="1146" y="628" width="1" height="33"/>
<rect x="1154" y="622" width="1" height="39"/>
<rect x="1162" y="616" width="1" height="45"/>
<rect x="1170" y="611" width="1" height="50"/>
<rect x="1178" y="609" width="1" height="52"/>
<rect x="1186" y="606" width="1" height="55"/>
<rect x="1194" y="605" width="1" height="56"/>
<rect x="1202" y="605" width="1" height="56"/>
<rect x="1210" y="605" width="1" height="56"/>
<rect x="1218" y="602" width="1" height="59"/>
<rect x="1226" y="598" width="1" height="63"/>
<rect x="1234" y="594" width="1" height="67"/>
<rect x="1242" y="591" width="1" height="70"/>
<rect x="1250" y="589" width="1" height="72"/>
<rect x="1258" y="589" width="1" height="72"/>
<rect x="1266" y="591" width="1" height="70"/>
<rect x="1274" y="592" width="1" height="69"/>
<rect x="1282" y="593" width="1" height="68"/>
<rect x="1290" y="594" width="1" height="67"/>
<rect x="1298" y="598" width="1" height="63"/>
<rect x="1306" y="601" width="1" height="60"/>
<rect x="1314" y="600" width="1" height="61"/>
<rect x="1322" y="598" width="1" height="63"/>
<rect x="1330" y="597" width="1" height="64"/>
<rect x="1338" y="596" width="1" height="65"/>
<rect x="1346" y="596" width="1" height="65"/>
<rect x="1354" y="595" width="1" height="66"/>
<rect x="1362" y="596" width="1" height="65"/>
<rect x="1370" y="599" width="1" height="62"/>
<rect x="1378" y="602" width="1" height="59"/>
<rect x="1386" y="605" width="1" height="56"/>
</g>
<polyline points="0.0,640.0 12.5,642.5 25.0,646.8 37.5,651.0 50.0,656.8 62.5,663.0 75.0,668.0 87.5,671.8 100.0,675.0 112.5,677.2 125.0,676.8 137.5,675.0 150.0,672.5 162.5,669.2 175.0,665.0 187.5,661.8 200.0,659.2 212.5,658.2 225.0,658.8 237.5,660.5 250.0,663.0 262.5,666.2 275.0,669.2 287.5,671.2 300.0,674.2 312.5,676.2 325.0,678.5 337.5,682.5 350.0,685.5 362.5,686.8 375.0,687.2 387.5,687.2 400.0,685.5 412.5,683.5 423.0,681.2 438.0,681.5 450.5,683.5 465.5,688.0 478.0,693.5 488.0,697.0 503.0,697.5 513.0,695.5 523.0,691.0 535.5,684.2 548.0,676.8 560.5,670.5 573.0,665.0 585.5,660.5 598.0,658.5 608.0,656.0 623.0,655.5 638.0,655.8 648.0,657.5 660.5,658.8 673.0,660.0 685.5,661.2 698.0,661.2 708.0,660.2 718.0,660.5 733.0,662.2 743.0,665.5 755.5,670.0 768.0,676.8 780.5,685.0 793.0,693.0 805.5,701.0 818.0,708.5 830.5,715.5 846.0,724.2 856.0,728.8 868.5,733.0 878.5,735.0 891.0,736.5 901.0,734.5 913.5,729.8 926.0,721.8 938.5,713.0 951.0,703.8 963.5,695.5 976.0,689.8 986.0,684.8 1001.0,682.5 1016.0,680.5 1031.0,678.0 1041.0,675.0 1056.0,673.0 1071.0,671.0 1086.0,669.2 1096.0,666.2 1111.0,664.2 1121.0,661.2 1133.5,656.2 1146.0,650.0 1156.0,644.2 1166.0,636.0 1176.0,630.0 1186.0,623.5 1198.5,616.0 1211.0,611.0 1221.0,607.5 1233.5,604.2 1246.0,600.5 1258.5,596.8 1269.0,595.0 1279.0,592.2 1291.5,591.0 1301.5,591.2 1309.0,592.0 1319.0,593.8 1344.0,596.2 1369.0,597.5 1386.5,597.5" fill="none" stroke="#f00" stroke-width="1" stroke-dasharray="2.5,2.5" shape-rendering="crispEdges"/>
<g shape-rendering="crispEdges" stroke="#c0c0c0" stroke-dasharray="3,3">
<line x1="0" y1="787.5" x2="1645" y2="787.5"/>
<line x1="0" y1="838.5" x2="1645" y2="838.5"/>
<line x1="0" y1="899.5" x2="1645" y2="899.5"/>
</g>
<polyline points="-6.0,846.5 2.0,849.0 10.0,854.0 18.0,854.5 26.0,841.2 34.0,863.8 42.0,868.2 50.0,855.8 58.0,854.0 66.0,862.0 74.0,851.5 82.0,859.5 90.0,849.5 98.0,846.2 106.0,855.0 114.0,838.8 122.0,834.5 130.0,829.5 138.0,829.0 146.0,830.2 154.0,828.0 162.0,829.0 170.0,839.5 178.0,834.5 186.0,826.2 194.0,831.0 202.0,846.2 210.0,844.5 218.0,852.0 226.0,853.2 234.0,859.0 242.0,862.2 250.0,845.2 258.0,846.5 266.0,851.5 274.0,857.5 282.0,856.0 290.0,867.0 298.0,850.2 306.0,854.5 314.0,859.5 322.0,865.2 330.0,866.2 338.0,870.0 346.0,874.2 354.0,841.0 362.0,838.2 370.0,853.2 378.0,843.8 386.0,842.2 394.0,843.5 402.0,840.2 410.0,845.0 418.0,853.2 426.0,860.0 434.0,863.2 442.0,874.0 450.0,877.5 458.0,874.0 466.0,870.2 474.0,849.5 482.0,848.2 490.0,843.2 498.0,838.2 506.0,828.2 514.0,821.2 522.0,822.8 530.0,840.8 538.0,845.2 546.0,834.0 554.0,832.5 562.0,831.2 570.0,835.2 578.0,826.5 586.0,823.5 594.0,833.2 602.0,833.2 610.0,847.2 618.0,848.5 626.0,844.5 634.0,848.2 642.0,843.2 650.0,839.0 658.0,833.5 666.0,834.5 674.0,833.2 682.0,835.2 690.0,841.2 698.0,839.0 706.0,848.2 714.0,853.2 722.0,845.8 730.0,867.2 738.0,863.2 746.0,866.5 754.0,867.2 762.0,869.0 770.0,878.2 778.0,887.5 786.0,882.5 794.0,866.5 802.0,874.2 810.0,874.5 818.0,880.2 826.0,871.5 834.0,881.5 842.0,878.5 850.0,879.5 858.0,879.5 866.0,874.5 874.0,875.5 882.0,862.2 890.0,860.2 898.0,846.2 906.0,842.5 914.0,844.2 922.0,832.5 930.0,840.0 938.0,843.5 946.0,848.0 954.0,849.5 962.0,842.5 970.0,855.2 978.0,841.2 986.0,839.2 994.0,847.0 1002.0,849.2 1010.0,838.5 1018.0,841.5 1026.0,837.0 1034.0,835.2 1042.0,846.2 1050.0,842.2 1058.0,846.2 1066.0,837.5 1074.0,845.2 1082.0,835.8 1090.0,831.5 1098.0,824.5 1106.0,832.5 1114.0,826.2 1122.0,815.5 1130.0,812.5 1138.0,813.2 1146.0,805.2 1154.0,803.2 1162.0,801.5 1170.0,800.2 1178.0,806.2 1186.0,801.5 1194.0,804.5 1202.0,808.5 1210.0,805.5 1218.0,799.5 1226.0,794.5 1234.0,791.2 1242.0,790.2 1250.0,790.5 1258.0,795.2 1266.0,796.5 1274.0,794.8 1282.0,794.2 1290.0,792.2 1298.0,808.2 1306.0,805.2 1314.0,795.2 1322.0,791.5 1330.0,794.5 1338.0,792.5 1346.0,792.2 1354.0,785.8 1362.0,795.0 1370.0,805.0 1378.0,806.0 1386.0,814.5" fill="none" stroke="#1e90ff" stroke-width="1" shape-rendering="crispEdges"/>
<line x1="1302.3" y1="593.5" x2="1395.8" y2="602.5" stroke="#f00" stroke-width="3.7"/><polygon points="1406.2,603.5 1393.4,606.9 1394.3,597.7" fill="#f00"/>
<line x1="1351.4" y1="782.2" x2="1389.5" y2="812.9" stroke="#f00" stroke-width="3.2"/><polygon points="1396.5,818.6 1385.2,815.1 1390.7,808.3" fill="#f00"/>
<g shape-rendering="crispEdges" fill="#000">
<rect x="1646" y="211" width="3" height="1"/>
<rect x="1646" y="244" width="3" height="1"/>
<rect x="1646" y="277" width="3" height="1"/>
<rect x="1646" y="310" width="3" height="1"/>
<rect x="1646" y="343" width="3" height="1"/>
<rect x="1646" y="376" width="3" height="1"/>
<rect x="1646" y="409" width="3" height="1"/>
<rect x="1646" y="442" width="3" height="1"/>
<rect x="1646" y="475" width="3" height="1"/>
<rect x="1646" y="508" width="3" height="1"/>
<rect x="1646" y="541" width="3" height="1"/>
<rect x="1646" y="574" width="3" height="1"/>
<rect x="1646" y="580" width="2" height="1"/>
<rect x="1646" y="660" width="2" height="1"/>
<rect x="1646" y="748" width="2" height="1"/>
<rect x="1646" y="752" width="2" height="1"/>
<rect x="1646" y="787" width="2" height="1"/>
<rect x="1646" y="838" width="2" height="1"/>
<rect x="1646" y="899" width="2" height="1"/>
<rect x="1646" y="924" width="2" height="1"/>
</g>
<text class="ax" transform="translate(1651.3,149.0) scale(.9,1)">27201.0</text>
<text class="ax" transform="translate(1651.3,215.5) scale(.9,1)">26746.0</text>
<text class="ax" transform="translate(1651.3,248.5) scale(.9,1)">26518.5</text>
<text class="ax" transform="translate(1651.3,281.5) scale(.9,1)">26291.0</text>
<text class="ax" transform="translate(1651.3,314.5) scale(.9,1)">26057.0</text>
<text class="ax" transform="translate(1651.3,347.5) scale(.9,1)">25829.5</text>
<text class="ax" transform="translate(1651.3,380.5) scale(.9,1)">25602.0</text>
<text class="ax" transform="translate(1651.3,413.5) scale(.9,1)">25374.5</text>
<text class="ax" transform="translate(1651.3,446.5) scale(.9,1)">25140.5</text>
<text class="ax" transform="translate(1651.3,479.5) scale(.9,1)">24913.0</text>
<text class="ax" transform="translate(1651.3,512.5) scale(.9,1)">24685.5</text>
<text class="ax" transform="translate(1651.3,545.5) scale(.9,1)">24458.0</text>
<text class="ax" transform="translate(1651.3,578.5) scale(.9,1)">24230.5</text>
<text class="ax" transform="translate(1649.0,590.0) scale(.9,1)">469.42</text>
<text class="ax" transform="translate(1649.0,664.0) scale(.9,1)">0.00</text>
<text class="ax" transform="translate(1649.0,747.0) scale(.9,1)">-519.1</text>
<text class="ax" transform="translate(1649.0,763.0) scale(.9,1)">100</text>
<text class="ax" transform="translate(1649.0,791.0) scale(.9,1)">80</text>
<text class="ax" transform="translate(1649.0,842.0) scale(.9,1)">50</text>
<text class="ax" transform="translate(1649.0,903.0) scale(.9,1)">15</text>
<text class="ax" transform="translate(1649.0,922.0) scale(.9,1)">0</text>
<rect x="1647" y="40" width="41" height="11" fill="#f00" shape-rendering="crispEdges"/>
<text class="axw" transform="translate(1651.0,49.2) scale(.9,1)">27887.6</text>
<rect x="1640.5" y="44.5" width="4" height="4" fill="#fff" stroke="#f00" shape-rendering="crispEdges"/>
<rect x="1647" y="74" width="41" height="11" fill="#f00" shape-rendering="crispEdges"/>
<text class="axw" transform="translate(1651.0,83.2) scale(.9,1)">27652.2</text>
<rect x="1640.5" y="78.5" width="4" height="4" fill="#fff" stroke="#f00" shape-rendering="crispEdges"/>
<rect x="1647" y="106" width="41" height="11" fill="#32cd32" shape-rendering="crispEdges"/>
<text class="axw" transform="translate(1651.0,115.2) scale(.9,1)">27430.6</text>
<rect x="1640.5" y="110.5" width="4" height="4" fill="#fff" stroke="#32cd32" shape-rendering="crispEdges"/>
<rect x="1647" y="117" width="41" height="10" fill="#000" shape-rendering="crispEdges"/>
<text class="axw" transform="translate(1651.0,125.2) scale(.9,1)">27370.0</text>
<rect x="1647" y="144" width="41" height="11" fill="#00f" shape-rendering="crispEdges"/>
<text class="axw" transform="translate(1651.0,153.2) scale(.9,1)">27167.5</text>
<rect x="1640.5" y="148.5" width="4" height="4" fill="#fff" stroke="#00f" shape-rendering="crispEdges"/>
<rect x="1647" y="173" width="41" height="11" fill="#00f" shape-rendering="crispEdges"/>
<text class="axw" transform="translate(1651.0,182.2) scale(.9,1)">26966.7</text>
<rect x="1640.5" y="177.5" width="4" height="4" fill="#fff" stroke="#00f" shape-rendering="crispEdges"/>
<g shape-rendering="crispEdges" fill="#000">
<rect x="50" y="926" width="1" height="3"/>
<rect x="114" y="926" width="1" height="3"/>
<rect x="178" y="926" width="1" height="3"/>
<rect x="242" y="926" width="1" height="3"/>
<rect x="306" y="926" width="1" height="3"/>
<rect x="370" y="926" width="1" height="3"/>
<rect x="434" y="926" width="1" height="3"/>
<rect x="498" y="926" width="1" height="3"/>
<rect x="562" y="926" width="1" height="3"/>
<rect x="626" y="926" width="1" height="3"/>
<rect x="690" y="926" width="1" height="3"/>
<rect x="754" y="926" width="1" height="3"/>
<rect x="818" y="926" width="1" height="3"/>
<rect x="882" y="926" width="1" height="3"/>
<rect x="946" y="926" width="1" height="3"/>
<rect x="1010" y="926" width="1" height="3"/>
<rect x="1074" y="926" width="1" height="3"/>
<rect x="1138" y="926" width="1" height="3"/>
<rect x="1202" y="926" width="1" height="3"/>
<rect x="1266" y="926" width="1" height="3"/>
<rect x="1330" y="926" width="1" height="3"/>
</g>
<text class="ax" transform="translate(-9.5,938.0) scale(.9,1)">9 Feb 2022</text>
<text class="ax" transform="translate(49.4,938.0) scale(.9,1)">13 Feb 23:30</text>
<text class="ax" transform="translate(113.4,938.0) scale(.9,1)">15 Feb 04:00</text>
<text class="ax" transform="translate(177.4,938.0) scale(.9,1)">16 Feb 14:55</text>
<text class="ax" transform="translate(241.4,938.0) scale(.9,1)">17 Feb 23:30</text>
<text class="ax" transform="translate(305.4,938.0) scale(.9,1)">21 Feb 04:00</text>
<text class="ax" transform="translate(369.4,938.0) scale(.9,1)">22 Feb 14:55</text>
<text class="ax" transform="translate(433.4,938.0) scale(.9,1)">23 Feb 23:30</text>
<text class="ax" transform="translate(497.4,938.0) scale(.9,1)">25 Feb 04:00</text>
<text class="ax" transform="translate(561.4,938.0) scale(.9,1)">28 Feb 14:55</text>
<text class="ax" transform="translate(625.4,938.0) scale(.9,1)">1 Mar 23:30</text>
<text class="ax" transform="translate(689.4,938.0) scale(.9,1)">3 Mar 04:00</text>
<text class="ax" transform="translate(753.4,938.0) scale(.9,1)">4 Mar 14:55</text>
<text class="ax" transform="translate(817.4,938.0) scale(.9,1)">7 Mar 23:30</text>
<text class="ax" transform="translate(881.4,938.0) scale(.9,1)">9 Mar 04:00</text>
<text class="ax" transform="translate(945.4,938.0) scale(.9,1)">10 Mar 14:55</text>
<text class="ax" transform="translate(1009.4,938.0) scale(.9,1)">13 Mar 23:30</text>
<text class="ax" transform="translate(1073.4,938.0) scale(.9,1)">15 Mar 04:00</text>
<text class="ax" transform="translate(1137.4,938.0) scale(.9,1)">16 Mar 14:55</text>
<text class="ax" transform="translate(1201.4,938.0) scale(.9,1)">17 Mar 23:30</text>
<text class="ax" transform="translate(1265.4,938.0) scale(.9,1)">21 Mar 04:00</text>
<text class="ax" transform="translate(1329.4,938.0) scale(.9,1)">22 Mar 14:55</text>
<text class="ax" transform="translate(0.5,36.0) scale(.9,1)" textLength="218.9" lengthAdjust="spacingAndGlyphs">JPN225-,H4&#160; 27475.0 27475.0 27345.0 27370.0</text>
<text class="ax" transform="translate(-8.5,592.0) scale(.9,1)" textLength="140.0" lengthAdjust="spacingAndGlyphs">MACD(12,26,9) 329.15 370.37</text>
<text class="ax" transform="translate(-7.5,764.0) scale(.9,1)" textLength="72.8" lengthAdjust="spacingAndGlyphs">RSI(14) 63.8098</text>
</svg>
<div id="tb"></div><div id="tbl"></div>
<svg width="1692" height="20" viewBox="0 0 1692 20">
<rect x="6" y="0" width="1" height="17" fill="#a0a0a0"/>
<rect x="336" y="1" width="1" height="16" fill="#b4b4b4"/><rect x="337" y="1" width="1" height="16" fill="#fff"/>
<rect x="427" y="1" width="1" height="16" fill="#b4b4b4"/><rect x="428" y="1" width="1" height="16" fill="#fff"/>
<rect x="460" y="1" width="1" height="16" fill="#b4b4b4"/><rect x="461" y="1" width="1" height="16" fill="#fff"/>
<rect x="489" y="1" width="1" height="16" fill="#b4b4b4"/><rect x="490" y="1" width="1" height="16" fill="#fff"/>
<rect x="677" y="1" width="1" height="16" fill="#b4b4b4"/><rect x="678" y="1" width="1" height="16" fill="#fff"/>
<rect x="1177" y="1" width="1" height="16" fill="#b4b4b4"/><rect x="1178" y="1" width="1" height="16" fill="#fff"/>
<rect x="242" y="0" width="1" height="18" fill="#c8c8c8"/>
<rect x="246" y="1" width="3" height="1" fill="#b0b0b0"/>
<rect x="246" y="3" width="3" height="1" fill="#b0b0b0"/>
<rect x="246" y="5" width="3" height="1" fill="#b0b0b0"/>
<rect x="246" y="7" width="3" height="1" fill="#b0b0b0"/>
<rect x="246" y="9" width="3" height="1" fill="#b0b0b0"/>
<rect x="246" y="11" width="3" height="1" fill="#b0b0b0"/>
<rect x="246" y="13" width="3" height="1" fill="#b0b0b0"/>
<rect x="246" y="15" width="3" height="1" fill="#b0b0b0"/>
<rect x="610" y="0" width="1" height="18" fill="#c8c8c8"/>
<rect x="614" y="1" width="3" height="1" fill="#b0b0b0"/>
<rect x="614" y="3" width="3" height="1" fill="#b0b0b0"/>
<rect x="614" y="5" width="3" height="1" fill="#b0b0b0"/>
<rect x="614" y="7" width="3" height="1" fill="#b0b0b0"/>
<rect x="614" y="9" width="3" height="1" fill="#b0b0b0"/>
<rect x="614" y="11" width="3" height="1" fill="#b0b0b0"/>
<rect x="614" y="13" width="3" height="1" fill="#b0b0b0"/>
<rect x="614" y="15" width="3" height="1" fill="#b0b0b0"/>
<rect x="917" y="0" width="1" height="18" fill="#c8c8c8"/>
<rect x="921" y="1" width="3" height="1" fill="#b0b0b0"/>
<rect x="921" y="3" width="3" height="1" fill="#b0b0b0"/>
<rect x="921" y="5" width="3" height="1" fill="#b0b0b0"/>
<rect x="921" y="7" width="3" height="1" fill="#b0b0b0"/>
<rect x="921" y="9" width="3" height="1" fill="#b0b0b0"/>
<rect x="921" y="11" width="3" height="1" fill="#b0b0b0"/>
<rect x="921" y="13" width="3" height="1" fill="#b0b0b0"/>
<rect x="921" y="15" width="3" height="1" fill="#b0b0b0"/>
<rect x="281" y="0" width="24" height="18" fill="#fafafa"/><rect x="621" y="0" width="24" height="18" fill="#fafafa"/><rect x="1067" y="0" width="24" height="18" fill="#fafafa"/><rect x="1066" y="0" width="1" height="18" fill="#b4b4b4"/>
<path d="M17.5 2.5h7l3 3v9h-10z" fill="#fff" stroke="#666"/><path d="M19 6h5M19 8h6M19 10h4" stroke="#999"/><path d="M21 10.5h3.5v-3.5h3.600v3.5h3.5v3.600h-3.5v3.5h-3.600v-3.5h-3.5z" fill="#2dc52d" stroke="#168a16" stroke-width=".7"/>
<path d="M83 7.5l8.5-6.5 7.5 7.5-9 6z" fill="#f0bf45" stroke="#a8781a" stroke-width=".8"/><path d="M83 7.5l7 7 9-6v2l-9 6-7-7z" fill="#c08a25"/>
<rect x="114" y="1" width="10" height="10" fill="#4a90d9" stroke="#2a60a9" stroke-width=".8"/><path d="M116 4h6M118 4v6M118 7h4" stroke="#dbeaff"/><path d="M112 16a3 3 0 0 1 1-5.5a4 4 0 0 1 7-1a3.5 3.5 0 0 1 6 3a2.2 2.2 0 0 1 0 3.5z" fill="#eef4fb" stroke="#7f9fc8" stroke-width=".8"/>
<circle cx="147" cy="9" r="7" fill="none" stroke="#9fc0e0" stroke-width="1.4"/><circle cx="147" cy="9" r="4" fill="none" stroke="#5a8fd0" stroke-width="1.4"/><circle cx="147" cy="8" r="1.6" fill="#2a60b0"/><path d="M147 9v7c4 0 6-2 7-5" fill="none" stroke="#3aa03a" stroke-width="1.6"/>
<path d="M167 8h16l-5 8h-6z" fill="#f0c23a" stroke="#b8860b" stroke-width=".6"/><ellipse cx="175" cy="6" rx="9" ry="3.4" fill="#5a96d8"/><path d="M171 5c0-3 1.5-5 4-5s4 2 4 5z" fill="#6aa6e8"/><circle cx="179" cy="13" r="4.6" fill="#e02020"/><rect x="177" y="11" width="4" height="4" fill="#fff"/>
<path d="M260.5 2.5v14M258 14.5h13.5" stroke="#4a4a4a" fill="none"/><path d="M258.5 4.5l2-2.8 2 2.8zM270 12.8l2.8 1.700-2.8 1.700z" fill="#4a4a4a"/><path d="M266.5 4v7.5M266.5 4.5h3M264 10.5h2.5" stroke="#2a9a2a" stroke-width="1.300" fill="none"/>
<path d="M288.5 2.5v14M286 14.5h13.5" stroke="#4a4a4a" fill="none"/><path d="M286.5 4.5l2-2.8 2 2.8zM298 12.8l2.8 1.700-2.8 1.700z" fill="#4a4a4a"/><path d="M294.5 0v12" stroke="#1a7a1a"/><rect x="292.5" y="2.5" width="4.5" height="7" fill="#2fd04a" stroke="#1a7a1a"/>
<path d="M316.5 2.5v14M314 14.5h13.5" stroke="#4a4a4a" fill="none"/><path d="M314.5 4.5l2-2.8 2 2.8zM326 12.8l2.8 1.700-2.8 1.700z" fill="#4a4a4a"/><path d="M316.5 11c2-3 4-6 6-6s3 3 5 4.5" stroke="#2a9a2a" stroke-width="1.200" fill="none"/>
<path d="M355 10l6 6" stroke="#d8a020" stroke-width="2.6" stroke-linecap="round"/><circle cx="352" cy="6.5" r="5" fill="#e8f2ff" stroke="#3a70c0" stroke-width="1.4"/><path d="M349 6.5h6" stroke="#3a70c0" stroke-width="1.4"/>
<path d="M352 3.5v6" stroke="#3a70c0" stroke-width="1.4"/>
<path d="M383 10l6 6" stroke="#d8a020" stroke-width="2.6" stroke-linecap="round"/><circle cx="380" cy="6.5" r="5" fill="#e8f2ff" stroke="#3a70c0" stroke-width="1.4"/><path d="M377 6.5h6" stroke="#3a70c0" stroke-width="1.4"/>
<rect x="402" y="-1" width="8" height="8" fill="#4aa84a"/><rect x="410.5" y="-1" width="8" height="8" fill="#3a64d0"/><rect x="402" y="7.8" width="8" height="8" fill="#3a64d0"/><rect x="410.5" y="7.8" width="8" height="8" fill="#4aa84a"/><path d="M403.5 3.5h5M412 3.5h5M403.5 12.300h5M412 12.300h5" stroke="#fff" stroke-width="2.200"/>
<rect x="432" y="0" width="25" height="18" fill="#f6f6f6"/><path d="M440.5 2.5v14M438 14.5h13.5" stroke="#4a4a4a" fill="none"/><path d="M438.5 4.5l2-2.8 2 2.8zM450 12.8l2.8 1.700-2.8 1.700z" fill="#4a4a4a"/><path d="M444.5 4l5 3.700-5 3.700z" fill="#7ee07e" stroke="#1a9a1a" stroke-width="1"/>
<rect x="462" y="0" width="24" height="18" fill="#f6f6f6"/><path d="M468.5 2.5v14M466 14.5h13.5" stroke="#4a4a4a" fill="none"/><path d="M466.5 4.5l2-2.8 2 2.8zM478 12.8l2.8 1.700-2.8 1.700z" fill="#4a4a4a"/><path d="M474.5 2v10.5" stroke="#2a6ab0" stroke-width="1.200" fill="none"/><path d="M481 7.5h-5M478.5 5l-2.5 2.5 2.5 2.5" stroke="#d04010" stroke-width="1.200" fill="none"/>
<path d="M500.5 1.5h6l3 3v9h-9z" fill="#fff" stroke="#666"/><path d="M503 4v6h4" stroke="#888" fill="none"/><path d="M504 10h3.5v-3.5h3.8v3.5h3.5v3.8h-3.5v3.5h-3.8v-3.5h-3.5z" fill="#2dc52d" stroke="#168a16" stroke-width=".7"/><path d="M520.5 6.5h5l-2.5 3z" fill="#000"/>
<circle cx="544.8" cy="8" r="7.8" fill="#2a6ad0"/><circle cx="544.8" cy="8" r="5" fill="#eef4fc"/><path d="M544.8 4.5v4h3" stroke="#444" fill="none"/><path d="M560 6.5h5l-2.5 3z" fill="#000"/>
<rect x="576.5" y="1.5" width="16" height="14" fill="#f4f8ff" stroke="#3a70c0"/><rect x="577" y="2" width="15" height="2.5" fill="#3a70c0"/><path d="M579 8l3-1 3 1 3-1.5 3 0.5" stroke="#c03020" fill="none"/><path d="M579 12l3 1 3-2 3 1.5 3-1" stroke="#2a9a2a" fill="none"/><path d="M598.5 6.5h5l-2.5 3z" fill="#000"/>
<path d="M628 1v12.300l2.900-2.8 2.300 4.5 1.8-.9-2.300-4.400h4z" fill="#3a3a3a"/><rect x="620" y="0" width="1" height="18" fill="#a8a8a8"/>
<path d="M660.5 2v14M653 8.5h15" stroke="#444" fill="none"/>
<path d="M694.5 3v11" stroke="#444"/><path d="M717 8.5h12" stroke="#444"/><path d="M745 14l12-11" stroke="#444"/>
<path d="M771 13l14-10M771 9l14-10M774 14l3-9M778 12l3-9M782 9l3-8" stroke="#444" stroke-width=".9" fill="none"/><text x="781.5" y="17" font-size="7" font-weight="bold" fill="#333" font-family="Liberation Sans,sans-serif">E</text>
<path d="M800 1.5h13" stroke="#444" stroke-dasharray="1,1"/>
<path d="M800 4.5h13" stroke="#444" stroke-dasharray="1,1"/>
<path d="M800 8.5h13" stroke="#444" stroke-dasharray="1,1"/>
<path d="M800 12.5h9" stroke="#444" stroke-dasharray="1,1"/>
<text x="809.5" y="17.5" font-size="7.5" font-weight="bold" fill="#333" font-family="Liberation Sans,sans-serif">F</text>
<text x="830.5" y="13.5" font-size="13" stroke="#555" stroke-width=".35" fill="#555" font-family="Liberation Sans,sans-serif">A</text>
<rect x="857.5" y="3.5" width="11" height="11" fill="none" stroke="#555" stroke-dasharray="1,1"/><text x="859.5" y="13" font-size="10" font-weight="bold" fill="#444" font-family="Liberation Sans,sans-serif">T</text>
<path d="M885 5l3-3 3 3-3 3zM891 11l3-3 3 3-3 3z" fill="#333"/><path d="M886 9l3 3M890 4l3 3" stroke="#333"/><path d="M905 6.5h5l-2.5 3z" fill="#000"/>
<circle cx="1648" cy="5.5" r="3.8" fill="#eaf2ff" stroke="#2a60c0" stroke-width="1.5"/><path d="M1645.5 8.5l-5 5" stroke="#2a60c0" stroke-width="2" stroke-linecap="round"/>
<path d="M1664 9a6 4.5 0 1 1 5 4.400l-3 2.600 0.5-3a5 4 0 0 1-2.5-4z" fill="#f4f4f4" stroke="#b0b0b0" stroke-width=".8"/><circle cx="1677.5" cy="5" r="7" fill="#d8281c"/><text x="1677.5" y="9" text-anchor="middle" font-size="11" fill="#fff" font-family="Liberation Sans,sans-serif">1</text>
</svg>
<div class="t cj" style="left:35px">新订单</div><div class="t cj" style="left:187px">自动交易</div>
<div class="t tf" style="left:932px">M1</div>
<div class="t tf" style="left:960px">M5</div>
<div class="t tf" style="left:985px">M15</div>
<div class="t tf" style="left:1013px">M30</div>
<div class="t tf" style="left:1044px">H1</div>
<div class="t tf" style="left:1072px">H4</div>
<div class="t tf" style="left:1100px">D1</div>
<div class="t tf" style="left:1128px">W1</div>
<div class="t tf" style="left:1154px">MN</div>
<div style="position:absolute;left:0;top:42px;width:210px;height:59px;background:#fff;"></div>
<div id="panel">
<div style="left:0;top:0;width:41px;height:24px;background:linear-gradient(#f85a5a,#e43030);"></div>
<div style="left:0;top:23px;width:37px;height:1px;background:#b81818;"></div>
<div style="left:41px;top:0;width:115px;height:24px;background:#f0f0f0;"></div>
<div style="left:43px;top:1px;width:111px;height:21px;background:#fff;border:1px solid #b4b4b4;box-sizing:border-box;"></div>
<div style="left:44px;top:2px;width:20px;height:19px;background:linear-gradient(#f4f4f4,#dcdcdc 50%,#cfcfcf 51%,#dadada);border-right:1px solid #b4b4b4;box-sizing:border-box;"></div>
<div style="left:133px;top:2px;width:20px;height:19px;background:linear-gradient(#f4f4f4,#dcdcdc 50%,#cfcfcf 51%,#dadada);border-left:1px solid #b4b4b4;box-sizing:border-box;"></div>
<div style="left:51px;top:9px;width:0;height:0;border-left:3px solid transparent;border-right:3px solid transparent;border-top:4px solid #5a64c8;"></div>
<div style="left:140px;top:8px;width:0;height:0;border-left:3px solid transparent;border-right:3px solid transparent;border-bottom:4px solid #5a64c8;"></div>
<div class="t" style="left:64px;top:4px;width:66px;text-align:right;font-size:13px;color:#000;">1.00</div>
<div style="left:156px;top:0;width:52px;height:24px;background:linear-gradient(#f85a5a,#e43030);"></div>
<div style="left:160px;top:23px;width:44px;height:1px;background:#b81818;"></div>
<div style="left:0;top:24px;width:98px;height:33px;background:linear-gradient(#dc2a2a,#b00404);"></div>
<div style="left:100px;top:24px;width:108px;height:33px;background:linear-gradient(#dc2a2a,#b00404);"></div>
<div class="t" style="left:0.5px;top:4.5px;font-size:12px;color:#fff;transform:scaleX(.9);transform-origin:0 0;">SELL</div>
<div class="t" style="left:169px;top:4.5px;font-size:12px;color:#fff;transform:scaleX(.96);transform-origin:0 0;">BUY</div>
<div class="t" style="left:5.5px;top:41.5px;font-size:11.5px;font-weight:bold;color:#fff;letter-spacing:.35px;">27368</div>
<div class="t" style="left:43px;top:27px;font-size:32px;color:#fff;">.</div>
<div class="t" style="left:51.5px;top:23px;font-size:35px;color:#fff;transform:scaleX(.78);transform-origin:0 0;">5</div>
<div class="t" style="left:115px;top:41.5px;font-size:11.5px;font-weight:bold;color:#fff;letter-spacing:.35px;">27391</div>
<div class="t" style="left:153.5px;top:27px;font-size:32px;color:#fff;">.</div>
<div class="t" style="left:161.5px;top:23px;font-size:35px;color:#fff;transform:scaleX(.78);transform-origin:0 0;">5</div>
<div style="left:2px;top:43px;width:2.5px;height:2.5px;background:#8fd8e0;transform:rotate(45deg);"></div>
</div>
</body></html>
